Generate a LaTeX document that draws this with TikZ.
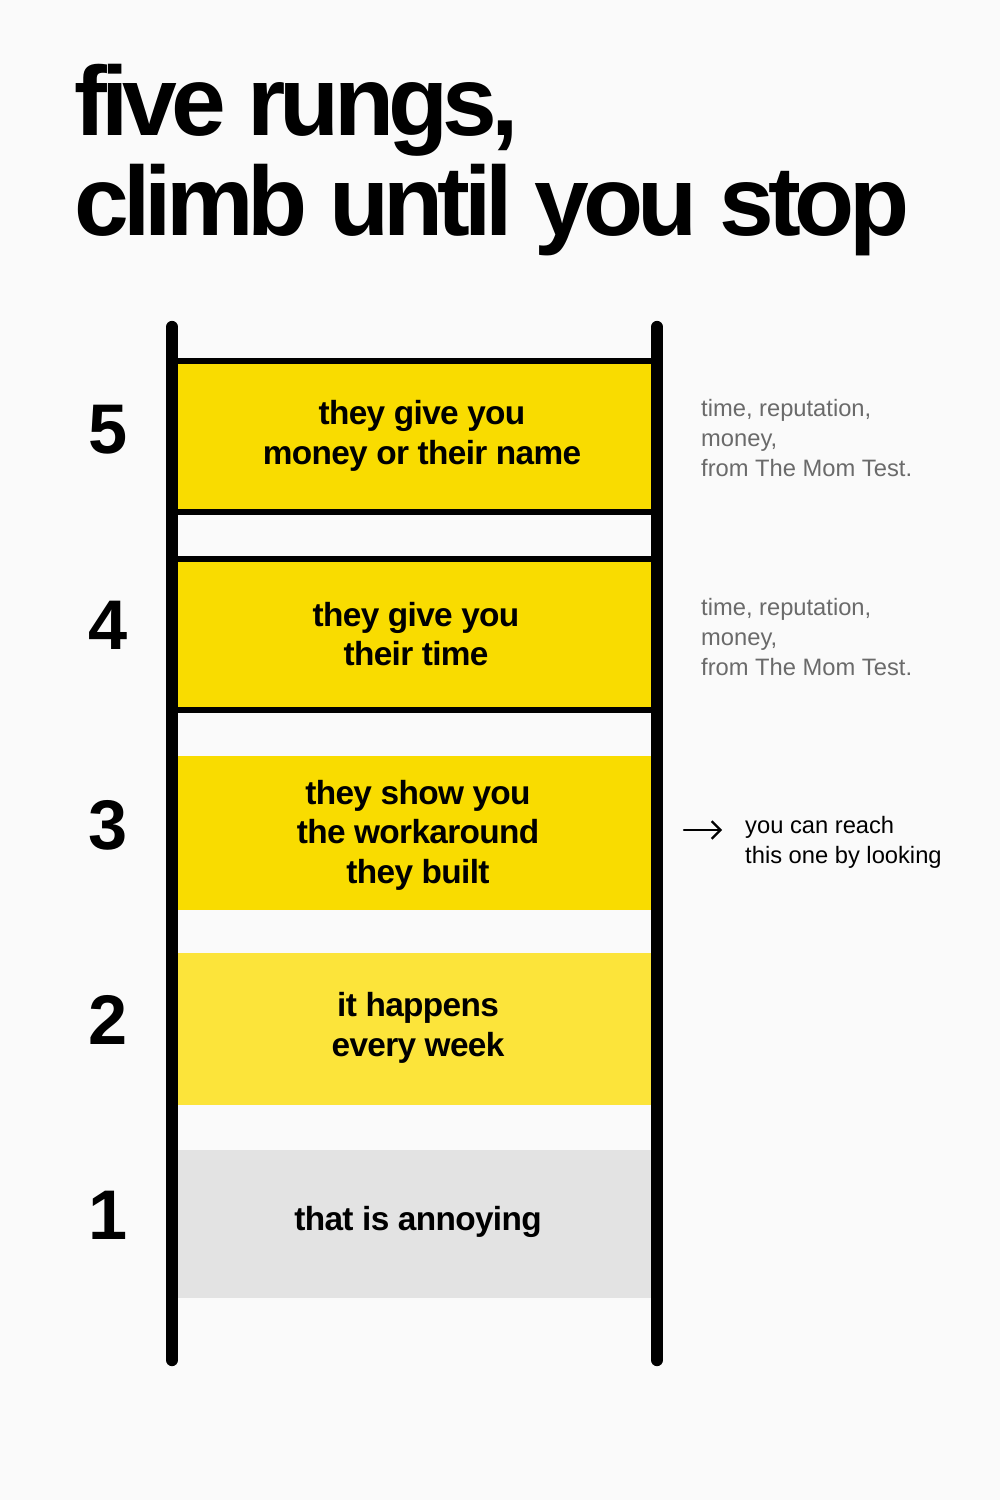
\documentclass[tikz,border=0pt]{standalone}
\usepackage{fontspec}
\setmainfont{Liberation Sans}
\usetikzlibrary{arrows.meta}
\definecolor{rungyellow}{HTML}{F9DC00}
\definecolor{rungpale}{HTML}{FCE43A}
\definecolor{runggrey}{HTML}{E3E3E3}
\definecolor{notegrey}{HTML}{6A6A6A}
\tikzset{
  rung/.style={font=\fontsize{19}{22.5}\selectfont\bfseries\addfontfeatures{LetterSpace=-2}, align=center},
  num/.style={font=\fontsize{40}{40}\selectfont\bfseries},
  note/.style={font=\fontsize{13.5}{17}\selectfont, align=left, anchor=north west}
}
\begin{document}
\begin{tikzpicture}[line cap=round,line join=round,x=0.02cm,y=-0.02cm]
\useasboundingbox[fill=white!98!black] (0,0) rectangle (1000,1500);
% title
\node[anchor=west, font=\fontsize{56}{57}\selectfont\bfseries\addfontfeatures{LetterSpace=-6}, align=left, inner sep=0pt] (title) at (74,160) {five rungs,\\climb until you stop};
% rungs
\fill[rungyellow] (178,362) rectangle (652,512);
\fill[rungyellow] (178,560) rectangle (652,710);
\fill[rungyellow] (178,756) rectangle (652,910);
\fill[rungpale] (178,953) rectangle (652,1105);
\fill[runggrey] (178,1150) rectangle (652,1298);
\draw[line width=3.5pt, line cap=butt] (172,361)--(657,361) (172,512)--(657,512) (172,559)--(657,559) (172,710)--(657,710);
% rails
\draw[line width=7pt] (172,327)--(172,1360);
\draw[line width=7pt] (657,327)--(657,1360);
% rung texts
\node[rung] (r5) at (422,436) {they give you\\money or their name};
\node[rung] (r4) at (416,634) {they give you\\their time};
\node[rung] (r3) at (418,835) {they show you\\the workaround\\they built};
\node[rung] (r2) at (418,1028) {it happens\\every week};
\node[rung] (r1) at (418,1222) {that is annoying};
% numbers
\foreach \n/\y in {5/430,4/625,3/825,2/1020,1/1215}
  \node[num] (n\n) at (108,\y) {\n};
% notes
\node[note, text=notegrey] (note5) at (695,393) {time, reputation,\\money,\\from The Mom Test.};
\node[note, text=notegrey] (note4) at (695,592) {time, reputation,\\money,\\from The Mom Test.};
\node[note] (note3) at (739,810) {you can reach\\this one by looking};
\coordinate (a3) at (684,830);
\coordinate (b3) at (722,830);
\draw[-{Straight Barb[length=5pt]}, line width=1.3pt] (a3) -- (b3);
\end{tikzpicture}
\end{document}
